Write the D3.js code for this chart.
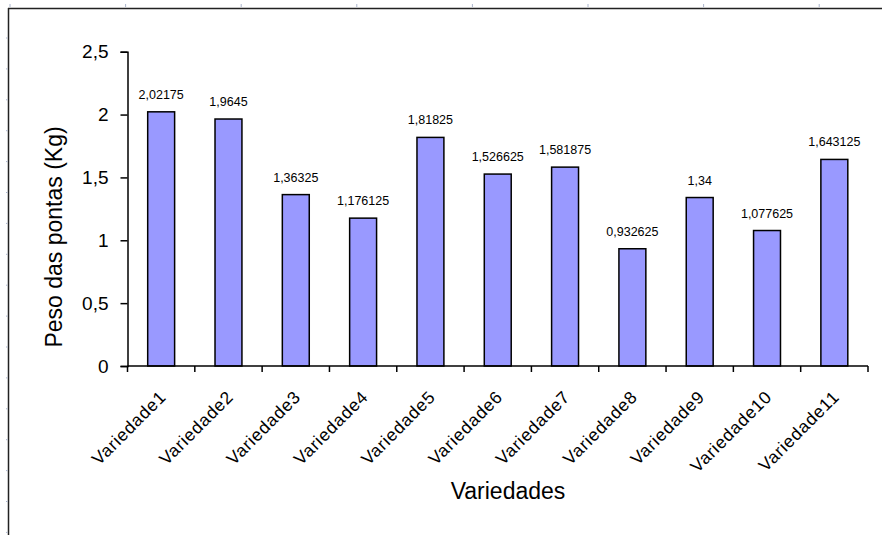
<!DOCTYPE html>
<html>
<head>
<meta charset="utf-8">
<script src="https://cdn.jsdelivr.net/npm/d3@7"></script>
<style>
  html, body { margin: 0; padding: 0; background: #fff; }
  svg { display: block; }
  text { font-family: "Liberation Sans", Arial, sans-serif; fill: #000; }
</style>
</head>
<body>
<svg id="chart" width="882" height="535"></svg>
<script>
const categories = ["Variedade1","Variedade2","Variedade3","Variedade4","Variedade5","Variedade6","Variedade7","Variedade8","Variedade9","Variedade10","Variedade11"];
const values = [2.02175, 1.9645, 1.36325, 1.176125, 1.81825, 1.526625, 1.581875, 0.932625, 1.34, 1.077625, 1.643125];
const valueLabels = ["2,02175","1,9645","1,36325","1,176125","1,81825","1,526625","1,581875","0,932625","1,34","1,077625","1,643125"];
const yTicks = [0, 0.5, 1, 1.5, 2, 2.5];
const yTickLabels = ["0","0,5","1","1,5","2","2,5"];
const yTitle = "Peso das pontas (Kg)";
const xTitle = "Variedades";

const svg = d3.select("#chart");

// page frame (top and left edges) with ruler marks
svg.append("line").attr("x1", 8).attr("x2", 882).attr("y1", 8.5).attr("y2", 8.5)
  .attr("stroke", "#222").attr("stroke-width", 1.5);
svg.append("line").attr("x1", 8.5).attr("x2", 8.5).attr("y1", 8).attr("y2", 535)
  .attr("stroke", "#222").attr("stroke-width", 1.5);
svg.append("g").selectAll("line").data(d3.range(10, 882, 115.6)).join("line")
  .attr("x1", d => d).attr("x2", d => d).attr("y1", 4).attr("y2", 7)
  .attr("stroke", "#aab4cc").attr("stroke-width", 1);
svg.append("g").selectAll("line").data(d3.range(38, 535, 30.9)).join("line")
  .attr("x1", 6).attr("x2", 7.5).attr("y1", d => d).attr("y2", d => d)
  .attr("stroke", "#aab4cc").attr("stroke-width", 1);

const x = d3.scaleBand().domain(categories).range([127.5, 868]).paddingInner(0.6).paddingOuter(0.3);
const y = d3.scaleLinear().domain([0, 2.5]).range([366, 51.7]);

// bars
svg.append("g").selectAll("rect").data(values).join("rect")
  .attr("x", (d, i) => x(categories[i]))
  .attr("y", d => y(d))
  .attr("width", x.bandwidth())
  .attr("height", d => y(0) - y(d))
  .attr("fill", "#9999FF")
  .attr("stroke", "#000")
  .attr("stroke-width", 1.5);

// value labels
svg.append("g").selectAll("text").data(values).join("text")
  .attr("x", (d, i) => x(categories[i]) + x.bandwidth() / 2)
  .attr("y", d => y(d) - 13)
  .attr("text-anchor", "middle")
  .attr("font-size", "12.5px")
  .text((d, i) => valueLabels[i]);

// y axis
const yAxis = d3.axisLeft(y).tickValues(yTicks).tickSize(7).tickPadding(12)
  .tickFormat((d, i) => yTickLabels[i]);
const gy = svg.append("g").attr("transform", "translate(127.5,0)").call(yAxis);
gy.select(".domain").attr("stroke", "#000").attr("stroke-width", 1.5);
gy.selectAll(".tick line").attr("stroke", "#000").attr("stroke-width", 1.5);
gy.selectAll(".tick text").attr("font-size", "19px").attr("font-family", "Liberation Sans, Arial, sans-serif").attr("fill", "#000");

// x axis: ticks at band boundaries
const gx = svg.append("g").attr("transform", "translate(0,366)");
gx.append("line").attr("x1", 127.5).attr("x2", 868).attr("stroke", "#000").attr("stroke-width", 1.5);
const bounds = categories.map(c => x(c) - x.step() * 0.3).concat([x(categories[categories.length - 1]) - x.step() * 0.3 + x.step()]);
gx.selectAll("line.tk").data(bounds).join("line").attr("class", "tk")
  .attr("x1", d => d).attr("x2", d => d).attr("y1", 0).attr("y2", 6)
  .attr("stroke", "#000").attr("stroke-width", 1.5);
gx.selectAll("text").data(categories).join("text")
  .attr("transform", d => `translate(${x(d) + x.bandwidth() / 2 + 6},${32}) rotate(-45)`)
  .attr("text-anchor", "end")
  .attr("font-size", "17.5px")
  .attr("letter-spacing", "0.8px")
  .attr("fill", "#222")
  .text(d => d);

// axis titles
svg.append("text")
  .attr("transform", "translate(62,237) rotate(-90)")
  .attr("text-anchor", "middle")
  .attr("font-size", "23px")
  .text(yTitle);
svg.append("text")
  .attr("x", 508).attr("y", 499)
  .attr("text-anchor", "middle")
  .attr("font-size", "23px")
  .text(xTitle);
</script>
</body>
</html>
